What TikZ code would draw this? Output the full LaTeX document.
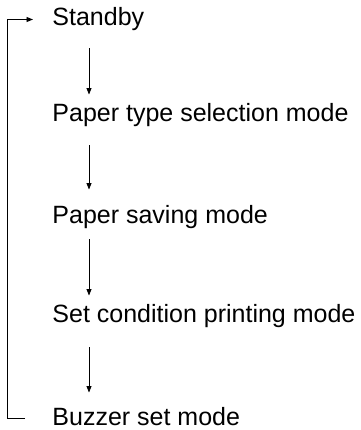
\documentclass[tikz,border=0pt]{standalone}
\usepackage{fontspec}
\setmainfont{Liberation Sans}
\usetikzlibrary{arrows.meta}
\begin{document}
\begin{tikzpicture}[x=1pt, y=-1pt, line width=0.9pt,
        mode/.style={anchor=base west, inner sep=0pt, text height=18pt, text depth=5pt,
            font=\fontsize{25}{30}\selectfont},
        flow/.style={-{Triangle[length=6.5pt,width=5pt]}}]
        \useasboundingbox (0,0) rectangle (360,430);
        \coordinate (col) at (89,0);
        \coordinate (rail) at (7,0);
        \node[mode] (standby) at (52,26) {Standby};
        \node[mode] (ptype) at (52,122) {Paper type selection mode};
        \node[mode] (psave) at (52,223) {Paper saving mode};
        \node[mode] (setcond) at (52,322) {Set condition printing mode};
        \node[mode] (buzzer) at (52,425) {Buzzer set mode};
        \draw[flow, shorten <=17pt, shorten >=9pt] (standby.south -| col) -- (ptype.north -| col);
        \draw[flow, shorten <=18pt, shorten >=15pt] (ptype.south -| col) -- (psave.north -| col);
        \draw[flow, shorten <=11pt, shorten >=8pt] (psave.south -| col) -- (setcond.north -| col);
        \draw[flow, shorten <=20pt, shorten >=14pt] (setcond.south -| col) -- (buzzer.north -| col);
        \draw[flow, shorten <=27pt, shorten >=19pt] (buzzer.west) -- (buzzer.west -| rail)
        -- (standby.west -| rail) -- (standby.west);
    \end{tikzpicture}
\end{document}
